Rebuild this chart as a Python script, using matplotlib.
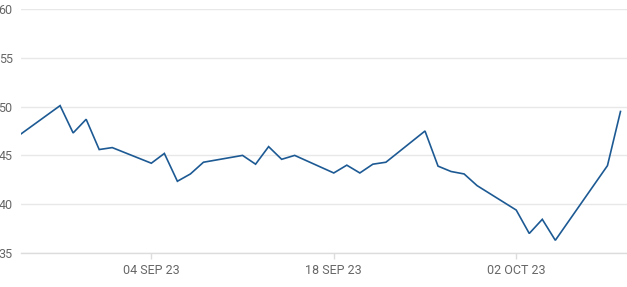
import matplotlib
matplotlib.use("Agg")
import matplotlib.pyplot as plt
import matplotlib.dates as mdates
import pandas as pd

# trading days and values
dates = ["2023-08-25", "2023-08-28", "2023-08-29", "2023-08-30", "2023-08-31",
         "2023-09-01", "2023-09-04", "2023-09-05", "2023-09-06", "2023-09-07",
         "2023-09-08", "2023-09-11", "2023-09-12", "2023-09-13", "2023-09-14",
         "2023-09-15", "2023-09-18", "2023-09-19", "2023-09-20", "2023-09-21",
         "2023-09-22", "2023-09-25", "2023-09-26", "2023-09-27", "2023-09-28",
         "2023-09-29", "2023-10-02", "2023-10-03", "2023-10-04", "2023-10-05",
         "2023-10-09", "2023-10-10"]
values = [47.2, 50.1, 47.3, 48.7, 45.6,
          45.8, 44.2, 45.2, 42.35, 43.1,
          44.3, 45.0, 44.1, 45.9, 44.6,
          45.0, 43.2, 44.0, 43.2, 44.1,
          44.3, 47.5, 43.9, 43.35, 43.1,
          41.9, 39.4, 37.0, 38.45, 36.3,
          43.95, 49.5]
x_ticks = ["2023-09-04", "2023-09-18", "2023-10-02"]
y_ticks = [35, 40, 45, 50, 55, 60]

plt.rcParams['font.family'] = ['Roboto', 'DejaVu Sans']

x = pd.to_datetime(dates)

fig = plt.figure(figsize=(6.27, 2.87), dpi=100)
ax = fig.add_axes([21 / 627, 1 - 253 / 287, 1 - 21 / 627, (253 - 9) / 287])

ax.plot(x, values, color="#1d5a94", linewidth=1.2, solid_joinstyle="miter")

ax.set_ylim(35, 60)
ax.set_xlim(pd.Timestamp("2023-08-25"), pd.Timestamp("2023-10-10 12:00"))
ax.set_yticks(y_ticks)
ax.set_xticks(pd.to_datetime(x_ticks))
ax.xaxis.set_major_formatter(mdates.DateFormatter("%d %b %y"))
ax.set_xticklabels([pd.Timestamp(d).strftime("%d %b %y").upper() for d in x_ticks])

ax.grid(axis="y", color="#e8e8e8", linewidth=1)
ax.set_axisbelow(True)
for s in ["top", "right", "left"]:
    ax.spines[s].set_visible(False)
ax.spines["bottom"].set_color("#dcdcdc")
ax.spines["bottom"].set_linewidth(1)

ax.tick_params(axis="y", length=0, pad=6, labelsize=9, labelcolor="#666666")
ax.tick_params(axis="x", length=4, width=1, color="#dcdcdc", pad=4,
               labelsize=9, labelcolor="#666666")

fig.savefig("out.png", dpi=100)
